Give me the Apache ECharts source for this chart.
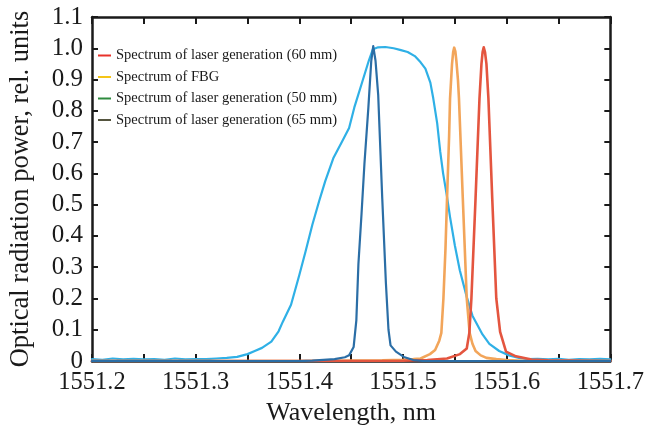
<!DOCTYPE html>
<html>
<head>
<meta charset="utf-8">
<script src="https://cdn.jsdelivr.net/npm/echarts@6/dist/echarts.min.js"></script>
<style>html,body{margin:0;padding:0;background:#fff;}#chart{width:647px;height:432px;}</style>
</head>
<body>
<div id="chart"></div>
<script>
// Wavelength (nm) vs. relative power
const broadSpectrum = [
 [1551.200,0.006],[1551.210,0.004],[1551.220,0.008],[1551.230,0.005],[1551.240,0.007],[1551.250,0.005],
 [1551.260,0.006],[1551.270,0.004],[1551.280,0.008],[1551.290,0.005],[1551.300,0.006],[1551.310,0.006],
 [1551.320,0.008],[1551.330,0.010],[1551.340,0.013],[1551.350,0.022],[1551.357,0.032],[1551.364,0.042],
 [1551.373,0.062],[1551.380,0.095],[1551.384,0.125],[1551.392,0.180],[1551.400,0.275],[1551.406,0.350],
 [1551.4125,0.435],[1551.419,0.510],[1551.425,0.575],[1551.433,0.650],[1551.441,0.700],[1551.448,0.745],
 [1551.453,0.810],[1551.460,0.885],[1551.467,0.960],[1551.471,0.997],[1551.476,1.003],[1551.483,1.004],
 [1551.491,1.000],[1551.498,0.994],[1551.5045,0.988],[1551.5114,0.975],[1551.517,0.955],[1551.5216,0.935],
 [1551.5264,0.890],[1551.5292,0.840],[1551.533,0.760],[1551.5359,0.670],[1551.5387,0.600],[1551.5425,0.525],
 [1551.5454,0.460],[1551.550,0.370],[1551.5548,0.290],[1551.5615,0.205],[1551.567,0.145],[1551.5767,0.085],
 [1551.5833,0.055],[1551.5928,0.032],[1551.6023,0.018],[1551.612,0.010],[1551.620,0.006],[1551.630,0.007],
 [1551.640,0.005],[1551.650,0.007],[1551.660,0.004],[1551.670,0.006],[1551.680,0.005],[1551.690,0.007],
 [1551.700,0.005]
];
const laser65Spectrum = [
 [1551.200,0.000],[1551.400,0.000],[1551.4125,0.001],[1551.434,0.006],[1551.444,0.012],[1551.448,0.018],
 [1551.4524,0.045],[1551.455,0.130],[1551.457,0.310],[1551.460,0.470],[1551.4628,0.630],[1551.4666,0.810],
 [1551.4694,0.960],[1551.4713,1.007],[1551.4735,0.960],[1551.4761,0.850],[1551.480,0.520],[1551.4835,0.250],
 [1551.486,0.100],[1551.488,0.050],[1551.4932,0.030],[1551.5008,0.013],[1551.510,0.003],[1551.520,0.000],
 [1551.700,0.000]
];
const fbgSpectrum = [
 [1551.200,0.000],[1551.400,0.000],[1551.480,0.002],[1551.500,0.004],[1551.510,0.006],[1551.517,0.008],
 [1551.526,0.022],[1551.531,0.035],[1551.535,0.065],[1551.537,0.090],[1551.539,0.200],[1551.541,0.360],
 [1551.5425,0.520],[1551.5445,0.720],[1551.5454,0.840],[1551.5473,0.950],[1551.5484,0.988],[1551.5494,1.002],
 [1551.5505,0.990],[1551.5515,0.960],[1551.553,0.900],[1551.554,0.840],[1551.5577,0.520],[1551.5615,0.200],
 [1551.5643,0.090],[1551.567,0.055],[1551.570,0.032],[1551.575,0.018],[1551.5805,0.010],[1551.590,0.006],
 [1551.600,0.003],[1551.620,0.000],[1551.700,0.000]
];
const laser60Spectrum = [
 [1551.200,0.000],[1551.350,0.000],[1551.500,0.001],[1551.5235,0.003],[1551.5425,0.008],[1551.555,0.022],
 [1551.5615,0.040],[1551.564,0.090],[1551.566,0.200],[1551.570,0.520],[1551.5738,0.840],[1551.5757,0.950],
 [1551.5768,0.988],[1551.5779,1.003],[1551.5791,0.988],[1551.5805,0.950],[1551.5824,0.840],[1551.5861,0.520],
 [1551.590,0.200],[1551.5937,0.093],[1551.5994,0.030],[1551.609,0.015],[1551.624,0.005],[1551.640,0.002],
 [1551.700,0.000]
];
const legendNames = [
 'Spectrum of laser generation (60 mm)',
 'Spectrum of FBG',
 'Spectrum of laser generation (50 mm)',
 'Spectrum of laser generation (65 mm)'
];
const legendColors = ['#e8322a','#f5c518','#2e8b3e','#55553f'];
const xTicks = [1551.2,1551.3,1551.4,1551.5,1551.6,1551.7];

const FONT = 'Liberation Serif';
const chart = echarts.init(document.getElementById('chart'), null, {renderer:'canvas'});

const axisLineStyle = {color:'#1a1a1a', width:2.5};
const legendSeries = legendNames.map((n,i)=>({
  name:n, type:'line', data:[], color:legendColors[i], showSymbol:false,
  xAxisIndex:0, yAxisIndex:0
}));
const dataSeries = [
  {name:'broad', data:broadSpectrum, color:'#2fb0e6', width:2.2},
  {name:'fbg', data:fbgSpectrum, color:'#f2a55a', width:2.6},
  {name:'l60', data:laser60Spectrum, color:'#e4553f', width:2.6},
  {name:'l65', data:laser65Spectrum, color:'#2b6ea6', width:2.2}
].map(s=>({
  name:s.name, type:'line', data:s.data, showSymbol:false, symbol:'none',
  lineStyle:{color:s.color, width:s.width, join:'round', cap:'round'}, itemStyle:{color:s.color},
  xAxisIndex:0, yAxisIndex:0, z:3
}));

chart.setOption({
  animation:false,
  backgroundColor:'#ffffff',
  grid:{left:86, right:34, top:17, bottom:71, containLabel:false},
  legend:{
    data:legendNames, left:98, top:48, orient:'vertical', padding:0,
    icon:'rect', itemWidth:13, itemHeight:2, itemGap:6.5,
    textStyle:{fontFamily:FONT, fontSize:14.5, color:'#1a1a1a', lineHeight:14}
  },
  xAxis:[{
    type:'value', min:1551.2, max:1551.7, interval:0.1, position:'bottom',
    name:'Wavelength, nm', nameLocation:'middle', nameGap:37,
    nameTextStyle:{fontFamily:FONT, fontSize:26, color:'#1a1a1a'},
    axisLine:{show:true, onZero:false, lineStyle:axisLineStyle},
    axisTick:{show:true, inside:true, length:7, lineStyle:{color:'#1a1a1a', width:2}},
    minorTick:{show:true, splitNumber:2, length:7, lineStyle:{color:'#1a1a1a', width:2}},
    axisLabel:{fontFamily:FONT, fontSize:24.5, color:'#1a1a1a', margin:9,
      formatter:v=>v.toFixed(1)},
    splitLine:{show:false}
  },{
    type:'value', min:1551.2, max:1551.7, interval:0.1, position:'top',
    axisLine:{show:true, onZero:false, lineStyle:axisLineStyle},
    axisTick:{show:true, inside:true, length:7, lineStyle:{color:'#1a1a1a', width:2}},
    minorTick:{show:true, splitNumber:2, length:7, lineStyle:{color:'#1a1a1a', width:2}},
    axisLabel:{show:false}, splitLine:{show:false}
  }],
  yAxis:[{
    type:'value', min:0, max:1.1, interval:0.1, position:'left',
    name:'Optical radiation power, rel. units', nameLocation:'middle', nameGap:57,
    nameTextStyle:{fontFamily:FONT, fontSize:26.5, color:'#1a1a1a'},
    axisLine:{show:true, onZero:false, lineStyle:axisLineStyle},
    axisTick:{show:true, inside:true, length:6, lineStyle:{color:'#1a1a1a', width:2}},
    axisLabel:{fontFamily:FONT, fontSize:25, color:'#1a1a1a', margin:9,
      formatter:v=>v===0?'0':v.toFixed(1)},
    splitLine:{show:false}
  },{
    type:'value', min:0, max:1.1, interval:0.1, position:'right',
    axisLine:{show:true, onZero:false, lineStyle:axisLineStyle},
    axisTick:{show:true, inside:true, length:6, lineStyle:{color:'#1a1a1a', width:2}},
    axisLabel:{show:false}, splitLine:{show:false}
  }],
  series: legendSeries.concat(dataSeries)
});
</script>
</body>
</html>
